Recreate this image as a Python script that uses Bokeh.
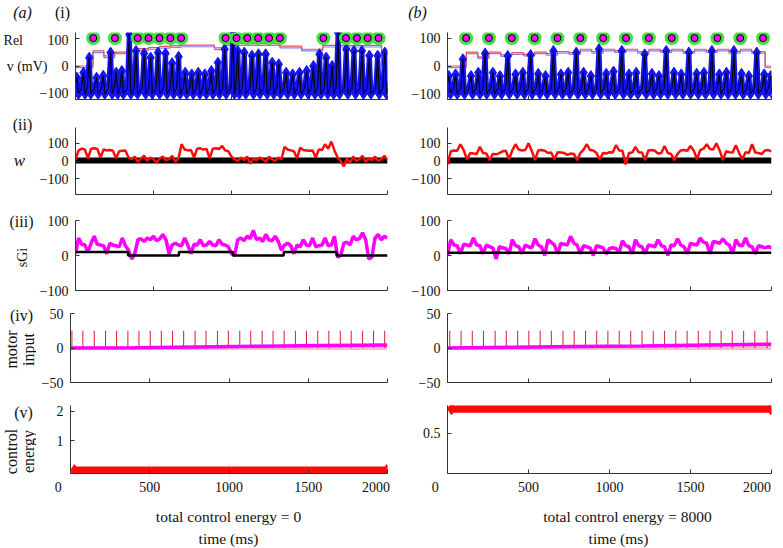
import numpy as np
from bokeh.plotting import figure
from bokeh.models import FixedTicker, Range1d, ColumnDataSource
from bokeh.layouts import column, row
from bokeh.embed import file_html
from bokeh.resources import INLINE
from bokeh.transform import dodge
from bokeh.core.properties import value

FONT = "Liberation Serif"

# ---------------- data ----------------
time_ticks = [0, 500, 1000, 1500, 2000]

# (i) membrane potential: spike times (ms) and peak voltages (mV)
v_rest = -80
v_ahp = -100
spk_t_a = [9, 51, 88, 135, 178, 225, 261, 297, 345, 388, 440, 482, 529, 577, 619, 661, 703, 745, 787, 829,
           871, 913, 956, 1009, 1040, 1082, 1131, 1173, 1219, 1261, 1303, 1350, 1392, 1436, 1482, 1525,
           1564, 1607, 1645, 1683, 1736, 1785, 1836, 1884, 1937, 1983]
spk_v_a = [-42, -24, 30, -42, -35, 48, -24, -18, 113, 54, 45, 30, 48, 45, 10, 33, -24, -30, -24, -30,
           -18, 12, 60, 125, 54, 48, 37, 42, 42, 12, 6, -24, -30, -24, -18, 0,
           42, 30, 0, 120, 60, 54, 54, 37, 37, 48]
spk_t_b = [8, 50, 95, 145, 190, 232, 280, 324, 372, 420, 465, 513, 560, 605, 654, 700, 745, 795, 840, 885,
           935, 980, 1025, 1076, 1120, 1165, 1217, 1262, 1305, 1350, 1398, 1443, 1490, 1538, 1583,
           1632, 1678, 1722, 1768, 1815, 1860, 1909, 1955, 1995]
spk_v_b = [-36, -30, 24, -36, -24, 45, -24, -36, 36, -30, -24, 39, -28, -36, 54, -30, -24, 48, -24, -36,
           60, -28, -20, 54, -30, -24, 42, -28, -36, 54, -24, -30, 48, -28, -24,
           54, -30, -24, 54, -28, -36, 48, -30, -36]

# release events (Rel = 100)
rel_level = 100
rel_t_a = [114, 253, 399, 468, 538, 608, 677, 962, 1032, 1101, 1171, 1241, 1310, 1589, 1734, 1804, 1873, 1943]
rel_t_b = [115, 256, 397, 538, 679, 820, 961, 1102, 1243, 1384, 1525, 1666, 1807, 1948]

# Rel step trace
relstep_t_a = [0, 112, 182, 251, 327, 399, 468, 538, 608, 677, 890, 950, 1310, 1450, 1585, 1962, 2000]
relstep_v_a = [0, 54, 36, 50, 58, 62, 66, 70, 73, 75, 65, 80, 71, 60, 74, 6, 6]
relstep_t_b = [0, 116, 187, 256, 329, 397, 469, 538, 610, 679, 750, 820, 891, 961, 1032, 1102, 1173, 1243,
               1314, 1384, 1455, 1525, 1596, 1666, 1737, 1807, 1878, 1961, 2000]
relstep_v_b = [0, 50, 33, 50, 40, 48, 42, 50, 45, 52, 48, 60, 52, 60, 55, 60, 52, 60,
               55, 60, 52, 60, 55, 60, 52, 60, 52, 0, 0]

# (ii) w, sampled every 20 ms
sample_t = list(range(0, 2001, 20))
w_a = [10, 60, 70, 65, 15, 70, 72, 68, 20, 65,
       60, 62, 58, 15, 55, 58, 60, 20, 10, 25,
       -5, 15, 30, 0, 20, 10, -10, 15, 25, 5,
       10, 30, -5, 15, 95, 65, 60, 62, 20, 70,
       72, 65, 68, 15, 70, 72, 68, 85, 60, 55,
       25, 10, 0, 20, 5, 25, -15, 15, 5, 20,
       10, -5, 25, 10, 0, 20, 10, 80, 65, 60,
       55, 15, 75, 62, 60, 58, 60, 20, 65, 62,
       95, 70, 110, 60, 20, 0, -30, 15, -10, 25,
       0, 10, 30, -5, 15, 5, 25, 0, 10, 30,
       5]
w_b = [-20, 55, 60, 58, 95, 62, 10, 45, 42, 40,
       80, 45, 42, 5, 40, 38, 45, 55, 58, 10,
       60, 95, 65, 60, 62, 100, 58, 5, 60, 62,
       58, 45, 48, 10, 50, 48, 45, 35, 42, 40,
       5, 45, 65, 95, 62, 60, 45, 10, 45, 42,
       50, 48, 90, 60, 58, -20, 45, 48, 80, 50,
       48, 5, 60, 62, 58, 42, 45, 85, 45, 40,
       5, 40, 60, 62, 58, 85, 60, 10, 62, 70,
       95, 68, 65, 100, 60, 5, 55, 50, 48, 90,
       45, 10, 50, 45, 95, 48, 45, 40, 60, 62,
       55]
w_base_t = [0, 2000]
w_base_v = [3, 3]

# (iii) sGi, sampled every 20 ms
sgi_a = [5, 50, 32, 30, 10, 35, 55, 32, 30, 28,
         5, 35, 30, 28, 25, 50, 28, 15, -10, 5,
         45, 48, 40, 50, 45, 55, 42, 48, 60, 45,
         5, 30, 35, 30, 28, 50, 30, 5, 32, 30,
         45, 28, 30, 40, 30, 28, 45, 32, 30, 25,
         5, 0, 45, 50, 42, 55, 48, 72, 45, 50,
         40, 60, 45, 42, 55, 40, 15, 30, 35, 28,
         5, 30, 25, 45, 30, 28, 50, 25, 28, 30,
         50, 28, 30, 55, -5, 0, 35, 38, 30, 55,
         45, 48, 65, 45, -10, -5, 50, 60, 45, 55,
         50]
sgi_b = [0, 45, 30, 28, 5, 32, 30, 28, 50, 30,
         28, 5, 30, 25, 22, -10, 25, 22, 20, 5,
         45, 28, 25, 5, 30, 25, 22, 48, 30, 25,
         0, 45, 38, 30, 5, 35, 32, 30, 55, 35,
         30, 5, 28, 25, 22, 0, 28, 25, 22, 5,
         20, 22, 20, 10, 42, 28, 25, 5, 45, 28,
         25, 5, 30, 28, 25, 45, 28, 25, 0, 30,
         28, 48, 30, 25, 5, 35, 32, 30, 50, 38,
         35, 5, 40, 38, 35, 48, 35, 30, 5, 45,
         30, 28, 50, 28, 25, 5, 28, 25, 22, 25,
         22]
sgi_ref_t_a = [0, 337, 663, 1010, 1335, 1674, 2000]
sgi_ref_v_a = [10, 0, 10, 0, 10, 0, 0]
sgi_ref_t_b = [0, 2000]
sgi_ref_v_b = [8, 8]

# (iv) motor input
motor_t_a = [9, 78, 150, 221, 291, 362, 432, 503, 573, 644, 714, 786, 855, 927, 996, 1068, 1137, 1209,
             1278, 1348, 1419, 1489, 1560, 1630, 1702, 1771, 1843, 1912, 1982]
motor_t_b = [14, 84, 153, 222, 294, 363, 433, 502, 572, 641, 713, 782, 852, 921, 990, 1060, 1131, 1201,
             1270, 1340, 1409, 1479, 1548, 1620, 1689, 1758, 1828, 1897, 1973]
motor_pulse = 25
motor_drift_t = [0, 400, 800, 1200, 1600, 2000]
motor_drift_a = [0, 0.5, 1.5, 2.5, 3.5, 4.5]
motor_drift_b = [0, 1, 2, 3, 4.5, 5.5]

# (v) control energy
energy_t = [25, 1995]
energy_a = [0, 0]
energy_b = [0.8, 0.8]
total_energy_a = 0
total_energy_b = 8000

for arr in (w_a, w_b, sgi_a, sgi_b):
    assert len(arr) == len(sample_t)

# ---------------- layout geometry (page pixels, origin at top-left) ----------------
NBSP = "\u00a0"
MINUS = "\u2212"
STRIP_W = 36
TOTAL_W = 781

COLS = {"a1": dict(width=400, bl=70, br=13),
        "a": dict(width=364, bl=34, br=13),
        "b": dict(width=381, bl=47, br=10)}
ROWS = [dict(h=81, bt=0, bb=14),
        dict(h=94, bt=14, bb=13),
        dict(h=94, bt=13, bb=11),
        dict(h=92, bt=12, bb=11),
        dict(h=107, bt=12, bb=27)]


def fmt(v):
    return ("%g" % v).replace("-", MINUS)


def make_fig(col, r, yr, yticks, ylabels=None, xlabels=False):
    c = COLS[col]
    rr = ROWS[r]
    p = figure(width=c["width"], height=rr["h"], x_range=Range1d(0, 2000), y_range=Range1d(*yr),
               output_backend="svg", toolbar_location=None, title=None,
               min_border_left=c["bl"], min_border_right=c["br"],
               min_border_top=rr["bt"], min_border_bottom=rr["bb"])
    p.grid.visible = False
    p.outline_line_color = None
    for ax in (p.xaxis[0], p.yaxis[0]):
        ax.axis_line_color = "#333333"
        ax.major_tick_line_color = "#333333"
        ax.minor_tick_line_color = None
        ax.major_tick_in = 4
        ax.major_tick_out = 0
        ax.major_label_text_font = FONT
        ax.major_label_text_font_size = "14px"
        ax.major_label_text_color = "#111111"
    p.xaxis.ticker = FixedTicker(ticks=time_ticks)
    if xlabels:
        p.xaxis.major_label_overrides = {0: "0" + NBSP * 7, 2000: "2000" + NBSP * 3}
        p.xaxis.major_label_standoff = 6
    else:
        p.xaxis.major_label_overrides = {t: "" for t in time_ticks}
        p.xaxis.major_label_text_font_size = "1px"
        p.xaxis.major_label_standoff = 0
    p.yaxis.ticker = FixedTicker(ticks=yticks)
    p.yaxis.major_label_overrides = ylabels if ylabels else {t: fmt(t) for t in yticks}
    p.yaxis.major_label_standoff = 7
    return p


def strip(x0, y0, w, h):
    """A bare figure used only to hold texts; its y data is minus the page y (pixels)."""
    p = figure(width=w, height=h, x_range=Range1d(x0, x0 + w), y_range=Range1d(-(y0 + h), -y0),
               output_backend="svg", toolbar_location=None, title=None,
               x_axis_location=None, y_axis_location=None,
               min_border_left=0, min_border_right=0, min_border_top=0, min_border_bottom=0)
    p.grid.visible = False
    p.outline_line_color = None
    if hasattr(p, "frame_align"):
        p.frame_align = False
    return p


def put(p, x, y, text, size=15, align="center", italic=False, angle=0.0):
    p.text(x=[x], y=[-y], text=[text], text_font=value(FONT), text_font_size=value(f"{size}px"),
           text_align=value(align), text_baseline=value("middle"),
           text_font_style=value("italic" if italic else "normal"), angle=angle, text_color="#111111")


BLUE = "#1414f0"
RED = "#ff0a0a"
MAG = "#ff00ff"
GREEN = "#3fe03f"


def spike_path(ts, vs):
    xs, ys = [0], [v_rest]
    for t, v in zip(ts, vs):
        xs += [t - 13, t, t + 10]
        ys += [v_rest, v, v_ahp]
    xs.append(2000)
    ys.append(v_rest)
    return xs, ys


rows_figs = {"a": [], "b": []}
for col, spk_t, spk_v, rel_t, rst, rsv, w, sgi, srt, srv, mt, md, en in (
        ("a", spk_t_a, spk_v_a, rel_t_a, relstep_t_a, relstep_v_a, w_a, sgi_a, sgi_ref_t_a, sgi_ref_v_a,
         motor_t_a, motor_drift_a, energy_a),
        ("b", spk_t_b, spk_v_b, rel_t_b, relstep_t_b, relstep_v_b, w_b, sgi_b, sgi_ref_t_b, sgi_ref_v_b,
         motor_t_b, motor_drift_b, energy_b)):
    # row (i)
    if col == "a":
        lab = {100: "Rel" + NBSP * 7 + "100", 0: "v (mV)" + NBSP * 4 + "0", -100: MINUS + "100"}
        p1 = make_fig("a1", 0, (-120, 120), [-100, 0, 100], ylabels=lab)
    else:
        p1 = make_fig("b", 0, (-120, 120), [-100, 0, 100])
    src = ColumnDataSource(dict(t=rst, v=rsv))
    p1.step(x="t", y=dodge("v", -6, range=p1.y_range), source=src, mode="after", line_color="#8080ff",
            line_width=1.2)
    p1.step(x="t", y="v", source=src, mode="after", line_color="#e8505a", line_width=1.2)
    xs, ys = spike_path(spk_t, spk_v)
    p1.line(xs, ys, line_color=BLUE, line_width=5)
    p1.scatter(xs, ys, marker="diamond", size=11, fill_color=BLUE, line_color=BLUE)
    p1.line(xs, ys, line_color="#000000", line_width=1)
    yy = [rel_level] * len(rel_t)
    p1.scatter(rel_t, yy, marker="circle", size=14, fill_color=GREEN, line_color=None)
    p1.scatter(rel_t, yy, marker="circle", size=7, fill_color=MAG, line_color="#000000", line_width=1)

    # row (ii)
    p2 = make_fig(col, 1, (-190, 190), [-100, 0, 100])
    p2.line(w_base_t, w_base_v, line_color="#000000", line_width=6)
    p2.line(sample_t, w, line_color=RED, line_width=2.5)

    # row (iii)
    p3 = make_fig(col, 2, (-100, 100), [-100, 0, 100])
    p3.line(sample_t, sgi, line_color=MAG, line_width=3.5)
    p3.step(srt, srv, mode="after", line_color="#000000", line_width=2.5)

    # row (iv)
    p4 = make_fig(col, 3, (-50, 50), [-50, 0, 50])
    p4.line([0, 2000], [0, 0], line_color="#ffa8c0", line_width=4, line_alpha=0.8)
    p4.segment(x0=mt, y0=[0] * len(mt), x1=mt, y1=[motor_pulse] * len(mt), line_color="#d81f2a",
               line_width=1)
    p4.line(motor_drift_t, md, line_color=MAG, line_width=3.5)

    # row (v)
    if col == "a":
        p5 = make_fig(col, 4, (-0.1, 2.2), [1, 2], xlabels=True)
    else:
        p5 = make_fig(col, 4, (0, 0.84), [0.5], xlabels=True)
    p5.line(energy_t, en, line_color=RED, line_width=8)
    p5.scatter(energy_t, en, marker="diamond", size=12, fill_color=RED, line_color=RED)

    rows_figs[col] = [p1, p2, p3, p4, p5]

# ---------------- text strips ----------------
top = strip(0, 0, TOTAL_W, 32)
put(top, 22, 12, "(a)", size=16, italic=True)
put(top, 62, 12, "(i)", size=16)
put(top, 417, 12, "(b)", size=16, italic=True)

side = strip(0, 113, STRIP_W, 387)
put(side, 22, 124, "(ii)", size=16)
put(side, 19, 160, "w", size=17, italic=True)
put(side, 21, 221, "(iii)", size=16)
put(side, 22, 257, "sGi", size=14, angle=np.pi / 2)
put(side, 21, 315, "(iv)", size=16)
put(side, 11, 349, "motor", size=16, angle=np.pi / 2)
put(side, 28, 349, "input", size=16, angle=np.pi / 2)
put(side, 23, 412, "(v)", size=16)
put(side, 11, 451, "control", size=16, angle=np.pi / 2)
put(side, 28, 451, "energy", size=16, angle=np.pi / 2)

bottom = strip(0, 500, TOTAL_W, 47)
put(bottom, 228, 516, f"total control energy = {total_energy_a}", size=15.5)
put(bottom, 228, 538, "time (ms)", size=15.5)
put(bottom, 627, 516, f"total control energy = {total_energy_b}", size=15.5)
put(bottom, 618, 538, "time (ms)", size=15.5)

lower = column(*[row(rows_figs["a"][i], rows_figs["b"][i], spacing=0) for i in range(1, 5)], spacing=0)
layout = column(top,
                row(rows_figs["a"][0], rows_figs["b"][0], spacing=0),
                row(side, lower, spacing=0),
                bottom,
                spacing=0)
open("out.html", "w").write(file_html(layout, INLINE))
